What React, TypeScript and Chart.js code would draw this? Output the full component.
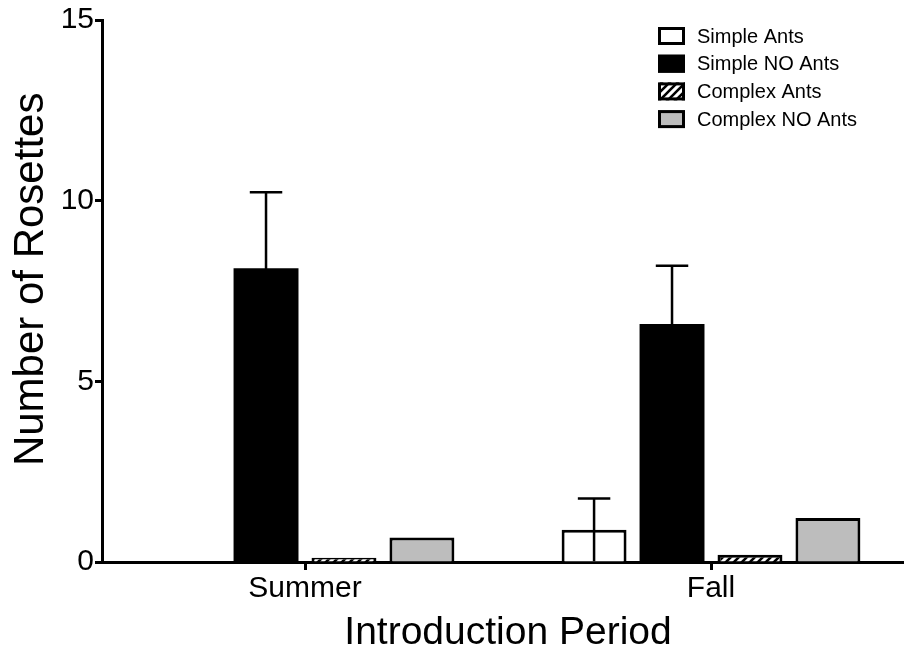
import { useEffect, useRef } from "react";
import { Chart, registerables } from "chart.js";

Chart.register(...registerables);

// Introduction periods (x categories)
const periods = ["Summer", "Fall"];

// Series names
const seriesNames = ["Simple Ants", "Simple NO Ants", "Complex Ants", "Complex NO Ants"];

// Mean number of rosettes per series, one value per period
const simpleAnts = [0, 0.89];
const simpleNoAnts = [8.13, 6.59];
const complexAnts = [0.12, 0.2];
const complexNoAnts = [0.68, 1.22];

// Standard errors
const simpleAntsErr = [0, 0.87];
const simpleNoAntsErr = [2.1, 1.61];
const complexAntsErr = [0, 0];
const complexNoAntsErr = [0, 0];

// Y axis range / tick step
const yMin = 0;
const yMax = 15;
const yStep = 5;

const FONT = "'Liberation Sans', Arial, Helvetica, sans-serif";

function makeHatch(): CanvasPattern | string {
  const c = document.createElement("canvas");
  c.width = 8;
  c.height = 8;
  const g = c.getContext("2d");
  if (!g) return "#888";
  g.fillStyle = "#ffffff";
  g.fillRect(0, 0, 8, 8);
  g.strokeStyle = "#000000";
  g.lineWidth = 2.6;
  g.beginPath();
  g.moveTo(-1, 9);
  g.lineTo(9, -1);
  g.moveTo(-5, 5);
  g.lineTo(5, -5);
  g.moveTo(3, 13);
  g.lineTo(13, 3);
  g.stroke();
  const p = g.createPattern(c, "repeat");
  return p || "#888";
}

// Error bars: whisker from (mean - err) to (mean + err) with a cap on top
const errorBarPlugin = {
  id: "errorBars",
  afterDatasetsDraw(chart: any) {
    const ctx = chart.ctx;
    const yScale = chart.scales.y;
    chart.data.datasets.forEach((ds: any, i: number) => {
      const errs: number[] | undefined = ds.errors;
      if (!errs) return;
      const meta = chart.getDatasetMeta(i);
      meta.data.forEach((bar: any, j: number) => {
        const e = errs[j];
        if (!e) return;
        const v = ds.data[j] as number;
        const x = bar.x;
        const top = yScale.getPixelForValue(v + e);
        const low = yScale.getPixelForValue(Math.max(0, v - e));
        const half = bar.width / 4;
        ctx.save();
        ctx.strokeStyle = "#000";
        ctx.lineWidth = 2.5;
        ctx.beginPath();
        ctx.moveTo(x, low);
        ctx.lineTo(x, top);
        ctx.moveTo(x - half, top);
        ctx.lineTo(x + half, top);
        ctx.stroke();
        ctx.restore();
      });
    });
  },
};

// Legend drawn in the top-right corner from the dataset styles
const boxLegendPlugin = {
  id: "boxLegend",
  afterDraw(chart: any, _args: any, opts: any) {
    const ctx = chart.ctx;
    const { left, top, rowGap, boxW, boxH, textGap, fontSize } = opts;
    chart.data.datasets.forEach((ds: any, i: number) => {
      const cy = top + i * rowGap;
      ctx.save();
      ctx.fillStyle = ds.backgroundColor;
      ctx.fillRect(left, cy - boxH / 2, boxW, boxH);
      ctx.strokeStyle = "#000";
      ctx.lineWidth = 3;
      ctx.strokeRect(left + 1.5, cy - boxH / 2 + 1.5, boxW - 3, boxH - 3);
      ctx.fillStyle = "#000";
      ctx.font = `${fontSize}px ${FONT}`;
      ctx.textBaseline = "middle";
      ctx.textAlign = "left";
      ctx.fillText(ds.label, left + boxW + textGap, cy + 1);
      ctx.restore();
    });
  },
};

export default function App() {
  const canvasRef = useRef<HTMLCanvasElement | null>(null);

  useEffect(() => {
    const canvas = canvasRef.current;
    if (!canvas) return;
    const hatch = makeHatch();

    const barCommon = {
      borderColor: "#000",
      borderWidth: 3,
      categoryPercentage: 0.768,
      barPercentage: 0.833,
    };

    const chart = new Chart(canvas, {
      type: "bar",
      data: {
        labels: periods,
        datasets: [
          { ...barCommon, label: seriesNames[0], data: simpleAnts, errors: simpleAntsErr, backgroundColor: "#ffffff" } as any,
          { ...barCommon, borderWidth: 0, label: seriesNames[1], data: simpleNoAnts, errors: simpleNoAntsErr, backgroundColor: "#000000" } as any,
          { ...barCommon, label: seriesNames[2], data: complexAnts, errors: complexAntsErr, backgroundColor: hatch } as any,
          { ...barCommon, label: seriesNames[3], data: complexNoAnts, errors: complexNoAntsErr, backgroundColor: "#bdbdbd" } as any,
        ],
      },
      options: {
        responsive: false,
        animation: false,
        events: [],
        layout: { padding: { top: 20, right: 2, left: 0, bottom: 0 } },
        plugins: {
          legend: { display: false },
          tooltip: { enabled: false },
          boxLegend: { left: 658, top: 36, rowGap: 27.7, boxW: 27, boxH: 18, textGap: 12, fontSize: 20 },
        } as any,
        scales: {
          x: {
            type: "category",
            afterFit: (s: any) => {
              s.height = 95;
            },
            border: { display: true, color: "#000", width: 3 },
            grid: {
              display: true,
              offset: false,
              drawOnChartArea: false,
              drawTicks: true,
              tickLength: 8,
              tickWidth: 3,
              tickColor: "#000",
            },
            ticks: {
              color: "#000",
              padding: 1,
              font: { family: FONT, size: 30 },
            },
            title: {
              display: true,
              text: "Introduction Period",
              color: "#000",
              font: { family: FONT, size: 39 },
              padding: { top: 0, bottom: 0 },
            },
          },
          y: {
            type: "linear",
            min: yMin,
            max: yMax,
            afterFit: (s: any) => {
              s.width = 102;
            },
            border: { display: true, color: "#000", width: 3 },
            grid: {
              display: true,
              drawOnChartArea: false,
              drawTicks: true,
              tickLength: 7,
              tickWidth: 3,
              tickColor: "#000",
            },
            ticks: {
              stepSize: yStep,
              color: "#000",
              padding: 1,
              font: { family: FONT, size: 30 },
            },
            title: {
              display: true,
              text: "  Number of Rosettes",
              color: "#000",
              font: { family: FONT, size: 42 },
              padding: { top: 6, bottom: 0 },
            },
          },
        },
      },
      plugins: [errorBarPlugin, boxLegendPlugin],
    });

    return () => {
      chart.destroy();
    };
  }, []);

  return (
    <div
      style={{
        position: "fixed",
        left: 0,
        top: 0,
        width: 904,
        height: 657,
        overflow: "hidden",
        background: "#ffffff",
      }}
    >
      <canvas ref={canvasRef} width={916} height={657} style={{ display: "block" }} />
    </div>
  );
}
